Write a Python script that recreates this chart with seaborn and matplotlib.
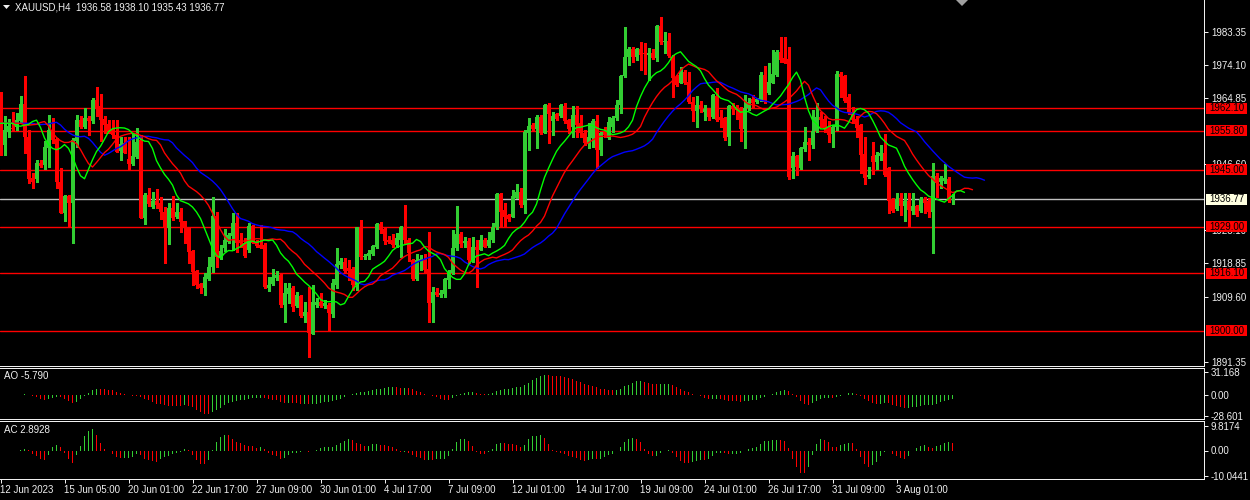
import numpy as np
import pandas as pd
import matplotlib
matplotlib.use('Agg')
import matplotlib.pyplot as plt
import matplotlib.transforms as mtransforms
from matplotlib.patches import Rectangle, Polygon
import seaborn as sns

# XAUUSD H4 candles (bar 0 = 12 Jun 2023)
opens = [
    1965.3, 1951.9, 1955.6, 1956.7, 1957.0, 1958.4, 1963.3, 1954.0, 1942.7, 1942.4,
    1946.7, 1946.3, 1951.1, 1956.0, 1953.5, 1941.4, 1933.0, 1937.6, 1935.6, 1953.0,
    1958.8, 1957.0, 1959.3, 1958.4, 1964.4, 1962.7, 1959.0, 1957.7, 1956.0, 1954.6,
    1950.3, 1952.3, 1947.9, 1946.6, 1948.4, 1953.2, 1931.6, 1937.9, 1934.5, 1936.3,
    1935.6, 1933.1, 1928.6, 1934.4, 1931.9, 1933.3, 1930.7, 1928.8, 1922.3, 1916.7,
    1913.1, 1911.9, 1914.4, 1917.7, 1932.1, 1920.7, 1923.0, 1924.9, 1926.5, 1930.0,
    1925.4, 1924.6, 1922.6, 1929.3, 1924.9, 1924.0, 1924.0, 1912.0, 1913.1, 1914.7,
    1915.6, 1907.2, 1910.3, 1911.9, 1907.0, 1909.8, 1904.2, 1905.4, 1899.3, 1907.2,
    1908.2, 1907.0, 1907.2, 1904.7, 1912.8, 1918.4, 1919.3, 1917.5, 1917.2, 1912.8,
    1928.9, 1920.5, 1920.9, 1921.5, 1923.5, 1929.8, 1928.3, 1925.5, 1925.4, 1924.0,
    1925.4, 1929.1, 1925.5, 1919.8, 1914.4, 1919.5, 1920.0, 1917.2, 1907.7, 1911.0,
    1910.0, 1910.3, 1914.2, 1916.2, 1923.0, 1927.0, 1924.5, 1925.2, 1919.8, 1923.5,
    1922.7, 1925.5, 1923.8, 1925.4, 1928.9, 1938.2, 1933.7, 1932.3, 1931.9, 1937.2,
    1938.8, 1935.1, 1955.3, 1957.4, 1956.2, 1959.7, 1955.3, 1963.0, 1958.4, 1960.5,
    1959.9, 1962.7, 1958.8, 1956.8, 1960.2, 1958.1, 1955.3, 1952.3, 1953.7, 1958.6,
    1950.5, 1955.6, 1953.7, 1956.9, 1959.3, 1963.0, 1971.1, 1976.3, 1978.5, 1976.3,
    1978.5, 1977.6, 1976.9, 1977.4, 1976.0, 1985.0, 1980.6, 1980.9, 1976.5, 1970.9,
    1969.2, 1972.3, 1969.5, 1963.9, 1961.4, 1963.0, 1961.1, 1961.8, 1959.7, 1965.5,
    1959.7, 1959.3, 1954.2, 1962.7, 1962.5, 1962.1, 1956.2, 1962.1, 1964.8, 1963.9,
    1964.4, 1971.4, 1966.4, 1969.2, 1971.4, 1977.9, 1976.0, 1975.7, 1945.3, 1948.8,
    1945.3, 1950.6, 1952.8, 1951.8, 1955.8, 1959.6, 1959.0, 1957.0, 1954.9, 1956.8,
    1971.6, 1971.1, 1965.3, 1961.1, 1959.0, 1957.4, 1949.3, 1942.8, 1948.8, 1947.2,
    1948.8, 1949.5, 1945.3, 1936.7, 1933.9, 1937.0, 1934.8, 1936.3, 1933.5, 1934.8,
    1933.5, 1936.7, 1936.3, 1933.3, 1943.2, 1941.6, 1941.9, 1942.3, 1936.58,
]
highs = [
    1966.7, 1959.8, 1959.0, 1961.1, 1960.7, 1965.5, 1971.1, 1956.0, 1944.0, 1947.7,
    1947.7, 1953.0, 1960.2, 1959.3, 1953.7, 1945.3, 1937.9, 1937.9, 1953.7, 1960.2,
    1959.8, 1962.1, 1960.0, 1964.9, 1968.1, 1966.1, 1959.8, 1958.8, 1958.8, 1958.8,
    1954.2, 1954.2, 1954.2, 1955.1, 1956.7, 1954.6, 1938.4, 1939.8, 1938.7, 1939.5,
    1937.3, 1934.7, 1935.6, 1937.6, 1935.6, 1934.4, 1930.7, 1929.1, 1922.6, 1917.0,
    1913.5, 1916.1, 1920.7, 1937.4, 1933.3, 1924.0, 1928.3, 1927.4, 1932.8, 1932.8,
    1927.2, 1925.8, 1930.2, 1929.5, 1925.4, 1929.5, 1924.4, 1915.1, 1917.2, 1916.8,
    1916.1, 1913.3, 1913.3, 1912.5, 1911.0, 1910.0, 1908.2, 1912.3, 1912.8, 1909.1,
    1910.5, 1908.6, 1907.7, 1914.4, 1923.0, 1920.3, 1920.3, 1919.8, 1917.7, 1929.1,
    1930.9, 1921.6, 1922.6, 1924.0, 1930.2, 1930.5, 1929.1, 1926.5, 1927.0, 1927.2,
    1929.3, 1935.1, 1926.0, 1920.2, 1921.5, 1921.2, 1921.5, 1927.7, 1912.4, 1911.9,
    1911.4, 1914.7, 1917.0, 1928.1, 1934.8, 1927.7, 1926.3, 1925.8, 1926.3, 1925.5,
    1926.7, 1925.8, 1927.7, 1930.0, 1938.6, 1938.6, 1935.6, 1932.6, 1939.3, 1941.0,
    1940.0, 1956.0, 1959.3, 1957.9, 1960.2, 1960.2, 1963.3, 1963.5, 1961.1, 1960.9,
    1963.3, 1963.5, 1959.0, 1962.7, 1962.7, 1960.2, 1956.0, 1957.9, 1959.0, 1960.2,
    1955.6, 1957.0, 1959.6, 1959.9, 1964.4, 1971.4, 1984.7, 1979.1, 1979.3, 1978.8,
    1980.7, 1980.2, 1978.8, 1978.5, 1985.3, 1987.6, 1983.4, 1983.0, 1976.9, 1971.4,
    1973.7, 1972.8, 1972.3, 1965.3, 1965.5, 1964.2, 1963.0, 1962.1, 1966.2, 1967.6,
    1961.6, 1959.6, 1963.0, 1963.5, 1963.0, 1962.5, 1965.8, 1964.9, 1965.8, 1964.9,
    1972.3, 1973.9, 1974.6, 1978.3, 1978.3, 1982.0, 1982.0, 1979.3, 1950.0, 1949.1,
    1951.4, 1957.0, 1953.7, 1961.6, 1963.5, 1961.1, 1959.9, 1958.4, 1957.4, 1972.6,
    1972.3, 1971.4, 1966.1, 1962.5, 1959.8, 1957.7, 1954.2, 1945.8, 1952.8, 1950.0,
    1951.8, 1954.9, 1945.6, 1937.0, 1938.6, 1938.6, 1938.4, 1938.4, 1938.6, 1935.1,
    1937.4, 1937.4, 1937.0, 1946.9, 1944.1, 1943.2, 1946.6, 1943.0, 1938.10,
]
lows = [
    1949.1, 1949.1, 1954.2, 1956.0, 1956.0, 1957.9, 1949.5, 1941.2, 1940.0, 1941.6,
    1945.6, 1945.1, 1945.6, 1952.3, 1939.8, 1932.8, 1930.8, 1929.1, 1924.6, 1951.4,
    1956.5, 1956.5, 1954.6, 1957.9, 1959.8, 1953.1, 1955.1, 1955.1, 1953.7, 1950.0,
    1947.7, 1949.5, 1945.1, 1946.3, 1948.1, 1931.4, 1929.7, 1934.8, 1934.2, 1934.2,
    1931.1, 1919.0, 1924.2, 1930.9, 1931.6, 1927.7, 1924.6, 1918.9, 1912.8, 1912.0,
    1910.5, 1910.0, 1914.2, 1916.5, 1917.9, 1920.0, 1922.4, 1924.4, 1922.6, 1922.1,
    1923.5, 1920.7, 1922.1, 1924.4, 1923.3, 1923.0, 1911.9, 1911.2, 1912.8, 1914.2,
    1906.8, 1902.6, 1907.9, 1905.7, 1906.8, 1904.0, 1902.6, 1892.8, 1899.1, 1906.8,
    1906.8, 1906.3, 1900.3, 1904.0, 1911.9, 1917.5, 1916.2, 1914.2, 1911.4, 1911.4,
    1920.2, 1920.2, 1920.2, 1921.2, 1923.0, 1927.2, 1924.2, 1924.6, 1923.5, 1923.5,
    1920.7, 1924.5, 1919.4, 1914.2, 1914.2, 1917.0, 1916.1, 1902.6, 1902.6, 1909.7,
    1909.4, 1909.6, 1911.9, 1915.9, 1922.6, 1923.5, 1923.5, 1918.9, 1919.3, 1912.3,
    1922.5, 1923.3, 1923.5, 1924.9, 1928.3, 1928.9, 1928.9, 1930.7, 1931.7, 1937.0,
    1934.7, 1933.0, 1950.4, 1956.0, 1950.9, 1955.0, 1955.1, 1952.3, 1954.6, 1958.8,
    1959.7, 1958.1, 1955.1, 1954.0, 1954.2, 1954.2, 1951.9, 1950.9, 1951.2, 1945.3,
    1949.1, 1954.2, 1953.4, 1955.6, 1958.8, 1960.7, 1970.9, 1974.2, 1975.1, 1975.5,
    1972.8, 1971.6, 1970.0, 1975.7, 1975.4, 1980.0, 1977.4, 1976.5, 1965.3, 1968.3,
    1969.0, 1968.8, 1963.5, 1958.4, 1956.8, 1961.1, 1958.8, 1958.8, 1959.3, 1958.4,
    1957.0, 1953.2, 1951.8, 1960.5, 1959.0, 1953.0, 1950.9, 1961.6, 1962.1, 1963.5,
    1964.2, 1963.6, 1966.2, 1969.0, 1971.1, 1975.1, 1974.6, 1942.5, 1942.6, 1943.5,
    1945.1, 1950.3, 1947.7, 1950.9, 1955.6, 1957.0, 1955.6, 1952.8, 1951.2, 1956.0,
    1965.3, 1963.9, 1960.5, 1958.1, 1954.0, 1944.1, 1941.0, 1942.6, 1943.9, 1945.1,
    1947.7, 1943.2, 1933.0, 1933.3, 1933.7, 1932.3, 1930.8, 1929.3, 1932.6, 1932.1,
    1933.3, 1933.0, 1931.9, 1921.8, 1937.4, 1939.8, 1941.2, 1936.0, 1935.43,
]
closes = [
    1952.0, 1956.0, 1957.1, 1956.3, 1958.8, 1963.3, 1954.0, 1942.4, 1941.4, 1946.7,
    1946.0, 1951.4, 1956.0, 1953.2, 1941.4, 1933.0, 1937.6, 1935.6, 1953.2, 1958.8,
    1957.0, 1959.3, 1958.4, 1964.4, 1962.3, 1958.8, 1957.4, 1955.6, 1954.6, 1950.0,
    1952.1, 1949.7, 1946.6, 1948.8, 1952.8, 1931.6, 1937.9, 1935.4, 1936.3, 1935.1,
    1933.1, 1928.6, 1934.4, 1931.6, 1933.3, 1930.5, 1928.6, 1922.1, 1916.5, 1912.8,
    1911.9, 1915.1, 1917.7, 1932.1, 1920.7, 1922.4, 1925.4, 1926.8, 1930.0, 1924.6,
    1924.6, 1920.9, 1929.3, 1924.6, 1923.7, 1923.0, 1912.2, 1912.8, 1915.1, 1915.6,
    1907.2, 1910.7, 1911.9, 1906.6, 1910.0, 1904.2, 1905.4, 1899.5, 1908.2, 1908.2,
    1907.0, 1907.9, 1904.9, 1913.5, 1918.7, 1919.6, 1916.8, 1916.8, 1912.8, 1928.9,
    1920.5, 1920.9, 1921.8, 1923.7, 1929.8, 1928.1, 1925.2, 1924.9, 1924.0, 1925.8,
    1929.1, 1925.5, 1921.8, 1914.4, 1919.8, 1920.0, 1917.0, 1907.7, 1911.0, 1910.0,
    1910.6, 1914.4, 1916.5, 1923.0, 1927.0, 1924.2, 1925.1, 1919.8, 1923.5, 1922.7,
    1925.5, 1923.5, 1925.5, 1929.1, 1938.2, 1933.3, 1931.7, 1931.1, 1937.6, 1938.8,
    1935.1, 1955.6, 1957.1, 1956.2, 1959.7, 1955.1, 1963.0, 1960.5, 1959.9, 1959.0,
    1963.0, 1958.6, 1956.2, 1960.2, 1957.4, 1955.3, 1952.5, 1954.2, 1958.6, 1950.5,
    1955.3, 1954.6, 1958.3, 1959.3, 1963.0, 1971.1, 1976.5, 1978.5, 1976.3, 1978.5,
    1976.9, 1977.2, 1977.4, 1976.0, 1985.0, 1980.7, 1980.9, 1976.7, 1970.4, 1968.6,
    1972.3, 1969.0, 1963.9, 1961.4, 1963.0, 1961.8, 1961.8, 1959.7, 1965.8, 1958.8,
    1958.8, 1953.7, 1962.7, 1962.1, 1961.6, 1956.2, 1962.3, 1963.9, 1963.6, 1964.6,
    1971.4, 1963.9, 1969.5, 1971.6, 1977.9, 1975.5, 1974.8, 1943.0, 1948.8, 1945.8,
    1950.9, 1952.8, 1951.8, 1955.8, 1959.6, 1958.8, 1956.2, 1954.6, 1957.0, 1971.6,
    1970.9, 1964.2, 1960.7, 1958.8, 1956.5, 1949.1, 1942.6, 1943.5, 1947.2, 1949.1,
    1949.7, 1943.5, 1936.3, 1933.5, 1936.7, 1934.8, 1936.3, 1933.7, 1934.8, 1932.3,
    1936.7, 1935.8, 1933.3, 1943.2, 1941.3, 1942.6, 1942.6, 1936.3, 1936.77,
]

# horizontal levels drawn on the chart
red_levels = [1962.10, 1955.80, 1945.00, 1929.00, 1916.10, 1900.00]
last_price = 1936.77

# price scale labels (those fully hidden behind the level tags are left out)
price_ticks = [1983.35, 1974.10, 1964.85, 1946.60, 1928.10, 1918.85,
               1909.60, 1891.35]
ao_ticks = [31.168, 0.0, -28.601]
ao_tick_labels = ['31.168', '0.00', '-28.601']
ac_ticks = [9.8174, 0.0, -10.0441]
ac_tick_labels = ['9.8174', '0.00', '-10.0441']

time_labels = ['12 Jun 2023', '15 Jun 05:00', '20 Jun 01:00', '22 Jun 17:00',
               '27 Jun 09:00', '30 Jun 01:00', '4 Jul 17:00', '7 Jul 09:00',
               '12 Jul 01:00', '14 Jul 17:00', '19 Jul 09:00', '24 Jul 01:00',
               '26 Jul 17:00', '31 Jul 09:00', '3 Aug 01:00']

title = 'XAUUSD,H4  1936.58 1938.10 1935.43 1936.77'
ao_title = 'AO -5.790'
ac_title = 'AC 2.8928'

# ---------------------------------------------------------------
df = pd.DataFrame({'open': opens, 'high': highs, 'low': lows, 'close': closes})
n = len(df)
df['bar'] = np.arange(n)
median = (df['high'] + df['low']) / 2

# Alligator (SMMA of median price, shifted forward)
def alligator_line(period, shift):
    smma = median.ewm(alpha=1.0 / period, adjust=False).mean().to_numpy()
    vals = np.concatenate([np.full(shift, smma[0]), smma])
    return pd.DataFrame({'bar': np.arange(n + shift), 'value': vals})

jaw = alligator_line(13, 8)
teeth = alligator_line(8, 5)
lips = alligator_line(5, 3)

# Awesome / Accelerator oscillators
ao = (median.rolling(5, min_periods=1).mean()
      - median.rolling(34, min_periods=1).mean()).to_numpy()
ac = ao - pd.Series(ao).rolling(5, min_periods=1).mean().to_numpy()

GREEN = '#32CD32'
RED = '#FF0000'
FG = '#F0F0F0'
PX = 0.72  # one pixel in points at 100 dpi
FS = 7

sns.set_style('dark', {'axes.facecolor': 'black', 'figure.facecolor': 'black'})
plt.rcParams['font.family'] = ['Liberation Sans', 'DejaVu Sans']

fig = plt.figure(figsize=(12.5, 5), dpi=100)
fig.patch.set_facecolor('black')
W = 1204 / 1250
ax = fig.add_axes([0, 1 - 365.5 / 500, W, 365.5 / 500])
ax_ao = fig.add_axes([0, 1 - 419 / 500, W, 51.5 / 500], sharex=ax)
ax_ac = fig.add_axes([0, 1 - 478.5 / 500, W, 57.5 / 500], sharex=ax)

for a in (ax, ax_ao, ax_ac):
    a.set_facecolor('black')
    a.grid(False)
    for s in a.spines.values():
        s.set_color(FG)
        s.set_linewidth(PX)
    a.spines['left'].set_visible(False)
    a.yaxis.tick_right()
    a.tick_params(axis='y', colors=FG, labelcolor=FG, length=3, width=PX,
                  labelsize=FS, pad=2, direction='out')
ax.spines['top'].set_visible(False)

# candles
bull = (df['close'] >= df['open']).to_numpy()
colors = np.where(bull, GREEN, RED)
ax.vlines(df['bar'], df['low'], df['high'], colors=colors, lw=1.0,
          antialiased=False, zorder=3)
body_lo = np.minimum(df['open'], df['close'])
body_h = np.maximum((df['close'] - df['open']).abs(), 0.3)
ax.bar(df['bar'], body_h, bottom=body_lo, width=0.7, color=colors,
       linewidth=0, antialiased=False, zorder=4)

# alligator lines
sns.lineplot(data=jaw, x='bar', y='value', color='#0000FF', lw=1.0, ax=ax, zorder=5)
sns.lineplot(data=teeth, x='bar', y='value', color='#FF0000', lw=1.0, ax=ax, zorder=5)
sns.lineplot(data=lips, x='bar', y='value', color='#00FF00', lw=1.0, ax=ax, zorder=5)
ax.set_xlabel('')
ax.set_ylabel('')

# horizontal levels
for lvl in red_levels:
    ax.axhline(lvl, color=RED, lw=1.0, zorder=2)
ax.axhline(last_price, color='#C0C0C0', lw=1.0, zorder=2)

ax.set_xlim(-0.125, 300.875)
ax.set_ylim(1890.38, 1992.27)
ax.set_yticks(price_ticks)
ax.set_yticklabels([f'{t:.2f}' for t in price_ticks])

# price tags on the right scale
trans = mtransforms.blended_transform_factory(ax.transAxes, ax.transData)
box_h = 11 / 3.587
for lvl, fc in [(v, RED) for v in red_levels] + [(last_price, '#FFFFE0')]:
    ax.add_patch(Rectangle((1206 / 1204, lvl - box_h / 2), 41 / 1204, box_h,
                           transform=trans, facecolor=fc, edgecolor='none',
                           clip_on=False, zorder=10))
    ax.text(1206 / 1204 + 20.5 / 1204, lvl, f'{lvl:.2f}', transform=trans,
            ha='center', va='center', color='black', fontsize=FS,
            clip_on=False, zorder=11)

# small markers: menu triangle (top-left) and chart shift marker (top)
fig.add_artist(Polygon([(3 / 1250, 1 - 5 / 500), (10 / 1250, 1 - 5 / 500),
                        (6.5 / 1250, 1 - 9 / 500)], closed=True,
                       transform=fig.transFigure, facecolor=FG, edgecolor='none'))
fig.add_artist(Polygon([(956 / 1250, 1.0), (968 / 1250, 1.0),
                        (962 / 1250, 1 - 6 / 500)], closed=True,
                       transform=fig.transFigure, facecolor='#A0A0A0',
                       edgecolor='none'))
ax.text(15 / 1204, 1 - 7 / 365.5, title, transform=ax.transAxes, color=FG,
        fontsize=FS, ha='left', va='center')

# AO panel
ao_col = [GREEN] + [GREEN if ao[i] > ao[i - 1] else RED for i in range(1, n)]
ax_ao.bar(df['bar'], ao, width=0.3, color=ao_col, linewidth=0,
          antialiased=False)
ax_ao.set_ylim(-33.1, 37.9)
ax_ao.set_yticks(ao_ticks)
ax_ao.set_yticklabels(ao_tick_labels)
ax_ao.text(4 / 1204, (419 - 376) / 51.5, ao_title, transform=ax_ao.transAxes,
           color=FG, fontsize=FS, ha='left', va='center')

# AC panel
ac_col = [GREEN] + [GREEN if ac[i] > ac[i - 1] else RED for i in range(1, n)]
ax_ac.bar(df['bar'], ac, width=0.3, color=ac_col, linewidth=0,
          antialiased=False)
ax_ac.set_ylim(-11.2, 11.8)
ax_ac.set_yticks(ac_ticks)
ax_ac.set_yticklabels(ac_tick_labels)
ax_ac.text(4 / 1204, (478.5 - 430) / 57.5, ac_title, transform=ax_ac.transAxes,
           color=FG, fontsize=FS, ha='left', va='center')

# time axis
ax_ac.set_xticks(np.arange(len(time_labels)) * 16)
ax_ac.set_xticklabels(time_labels)
ax_ac.tick_params(axis='x', colors=FG, labelcolor=FG, length=3, width=PX,
                  labelsize=FS, pad=2, direction='out', bottom=True,
                  labelbottom=True)
for lab in ax_ac.get_xticklabels():
    lab.set_ha('left')
for a in (ax, ax_ao):
    a.tick_params(axis='x', bottom=False, labelbottom=False)
ax.set_xlim(-0.125, 300.875)

fig.savefig('out.png', dpi=100, facecolor='black')
